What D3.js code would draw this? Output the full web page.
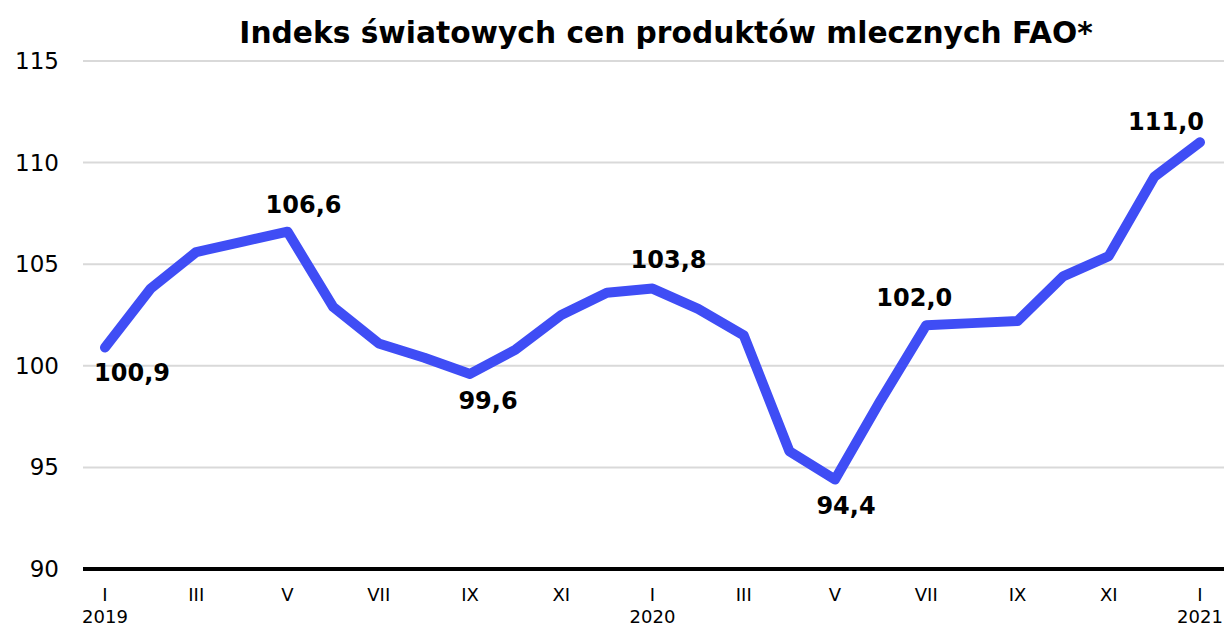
<!DOCTYPE html>
<html>
<head>
<meta charset="utf-8" />
<title>Indeks światowych cen produktów mlecznych FAO</title>
<script src="https://d3js.org/d3.v7.min.js"></script>
<style>
    body { margin: 0; background: #fff; }
    text { font-family: "DejaVu Sans", Verdana, sans-serif; }
</style>
</head>
<body>
<div id="chart"></div>
<script>
// monthly index values, I 2019 .. I 2021
const months = ["I","II","III","IV","V","VI","VII","VIII","IX","X","XI","XII",
                "I","II","III","IV","V","VI","VII","VIII","IX","X","XI","XII","I"];
const years = ["2019","","","","","","","","","","","",
               "2020","","","","","","","","","","","","2021"];
const values = [100.9, 103.8, 105.6, 106.1, 106.6, 102.9, 101.1, 100.4, 99.6, 100.8, 102.5, 103.6,
                103.8, 102.8, 101.5, 95.8, 94.4, 98.3, 102.0, 102.1, 102.2, 104.4, 105.4, 109.3, 111.0];
const labelled = [0, 4, 8, 12, 16, 18, 24];
const yTicks = [90, 95, 100, 105, 110, 115];

// where each data label sits relative to its point (px)
const labelOffset = {
    0: [27, 33], 4: [16, -19], 8: [18, 35], 12: [16, -21],
    16: [11, 34], 18: [-12, -19], 24: [-34, -12]
};

const width = 1224, height = 626;
const svg = d3.select("#chart").append("svg")
    .attr("width", width)
    .attr("height", height);

const x = d3.scaleLinear().domain([0, values.length - 1]).range([105, 1200]);
const y = d3.scaleLinear().domain([90, 115]).range([569, 61]);

svg.append("text")
    .attr("x", 666).attr("y", 43)
    .attr("text-anchor", "middle")
    .attr("font-size", 29.7).attr("font-weight", "bold")
    .text("Indeks światowych cen produktów mlecznych FAO*");

// gridlines
svg.append("g").selectAll("line")
    .data(yTicks.slice(1))
    .enter().append("line")
    .attr("x1", 83).attr("x2", width)
    .attr("y1", d => y(d)).attr("y2", d => y(d))
    .attr("stroke", "#d9d9d9").attr("stroke-width", 2);

// y axis labels
svg.append("g").selectAll("text")
    .data(yTicks)
    .enter().append("text")
    .attr("x", 59).attr("y", d => y(d) + 8)
    .attr("text-anchor", "end")
    .attr("font-size", 23)
    .text(d => d);

// baseline
svg.append("line")
    .attr("x1", 83).attr("x2", width)
    .attr("y1", y(90)).attr("y2", y(90))
    .attr("stroke", "#000").attr("stroke-width", 4);

// x labels, every second month
const xl = svg.append("g").selectAll("g")
    .data(months.map((m, i) => ({ m, yr: years[i], i })).filter(d => d.i % 2 === 0))
    .enter().append("g");
xl.append("text")
    .attr("x", d => x(d.i)).attr("y", 601)
    .attr("text-anchor", "middle").attr("font-size", 18)
    .text(d => d.m);
xl.append("text")
    .attr("x", d => x(d.i)).attr("y", 623)
    .attr("text-anchor", "middle").attr("font-size", 18)
    .text(d => d.yr);

// line
const line = d3.line().x((d, i) => x(i)).y(d => y(d));
svg.append("path")
    .datum(values)
    .attr("d", line)
    .attr("fill", "none")
    .attr("stroke", "#3f4df5")
    .attr("stroke-width", 10)
    .attr("stroke-linejoin", "round")
    .attr("stroke-linecap", "round");

// data labels
const fmt = v => v.toFixed(1).replace(".", ",");
svg.append("g").selectAll("text")
    .data(labelled)
    .enter().append("text")
    .attr("x", i => x(i) + labelOffset[i][0])
    .attr("y", i => y(values[i]) + labelOffset[i][1])
    .attr("text-anchor", "middle")
    .attr("font-size", 24).attr("font-weight", "bold")
    .text(i => fmt(values[i]));
</script>
</body>
</html>
